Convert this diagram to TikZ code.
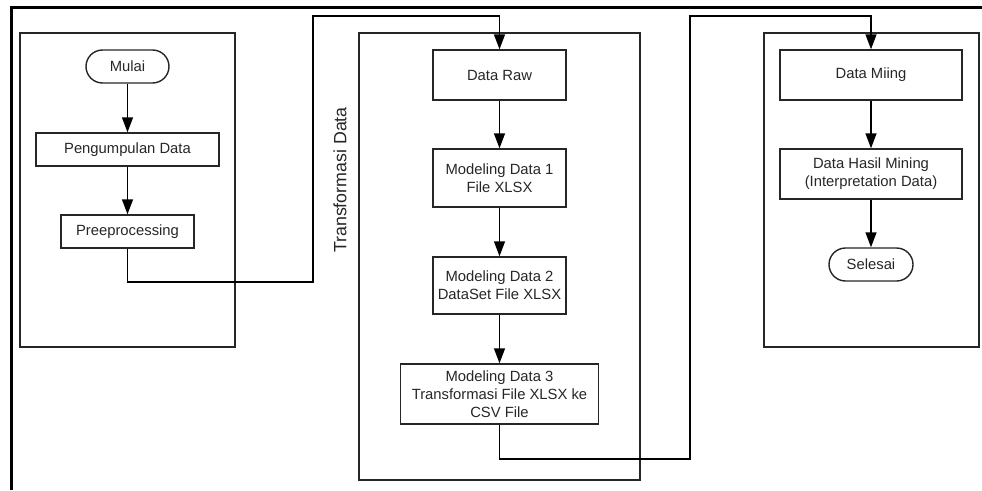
\documentclass[tikz,border=0pt]{standalone}
\usepackage{fontspec}
\setmainfont{Liberation Sans}
\usetikzlibrary{arrows.meta}
\begin{document}
\begin{tikzpicture}[x=1pt,y=-1pt,
  box/.style={draw=black!85,line width=1.4pt,minimum width=#1,inner sep=2pt,align=center,text=black!85,font=\fontsize{14.8}{18}\selectfont},
  term/.style={box=#1,rounded corners=16.5pt},
  frame/.style={draw=black!85,line width=1.4pt},
  arr/.style={draw=black,line width=1.4pt,-{Triangle[length=15pt,width=11pt]}},
  conn/.style={draw=black!85,line width=1.4pt}]
\useasboundingbox (0,0) rectangle (982,490);
% outer frame
\draw[line width=3pt] (11,490) -- (11,7) -- (982,7);
% containers
\node[frame,minimum width=215,minimum height=314,inner sep=0pt] (lb) at (127.5,190) {};
\node[frame,minimum width=281,minimum height=447,inner sep=0pt] (mb) at (499.5,256.5) {};
\node[frame,minimum width=215,minimum height=314,inner sep=0pt] (rb) at (871.5,190) {};
\node[rotate=90,text=black!85,font=\fontsize{17.8}{20}\selectfont] (tl) at (340,180) {Transformasi Data};
% left column
\node[term=83pt,minimum height=33pt] (mulai) at (127.5,66.5) {Mulai};
\node[box=183pt,minimum height=33pt] (peng) at (127.5,149.5) {Pengumpulan Data};
\node[box=133pt,minimum height=33pt] (pre) at (127.5,231.5) {Preeprocessing};
% middle column
\node[box=133pt,minimum height=50pt] (raw) at (499.5,75) {Data Raw};
\node[box=133pt,minimum height=58pt] (m1) at (499.5,178) {Modeling Data 1\\File XLSX};
\node[box=133pt,minimum height=57pt] (m2) at (499.5,285.5) {Modeling Data 2\\DataSet File XLSX};
\node[box=198pt,minimum height=60pt] (m3) at (499.5,394) {Modeling Data 3\\Transformasi File XLSX ke\\CSV File};
% right column
\node[box=182pt,minimum height=50pt] (miing) at (871,75) {Data Miing};
\node[box=182pt,minimum height=50pt] (hasil) at (871,174) {Data Hasil Mining\\(Interpretation Data)};
\node[term=84pt,minimum height=33pt] (selesai) at (871,264.5) {Selesai};
% coordinates for bends
\coordinate (b1) at (313,282);
\coordinate (b2) at (690,459);
% arrows
\draw[arr] (mulai) -- (peng);
\draw[arr] (peng) -- (pre);
\draw[arr] (pre.south) |- (b1) |- (raw.north |- 0,16) -- (raw.north);
\draw[arr] (raw) -- (m1);
\draw[arr] (m1) -- (m2);
\draw[arr] (m2) -- (m3);
\draw[arr] (m3.south) |- (b2) |- (miing.north |- 0,16) -- (miing.north);
\draw[arr] (miing) -- (hasil);
\draw[arr] (hasil) -- (selesai);
\end{tikzpicture}
\end{document}
